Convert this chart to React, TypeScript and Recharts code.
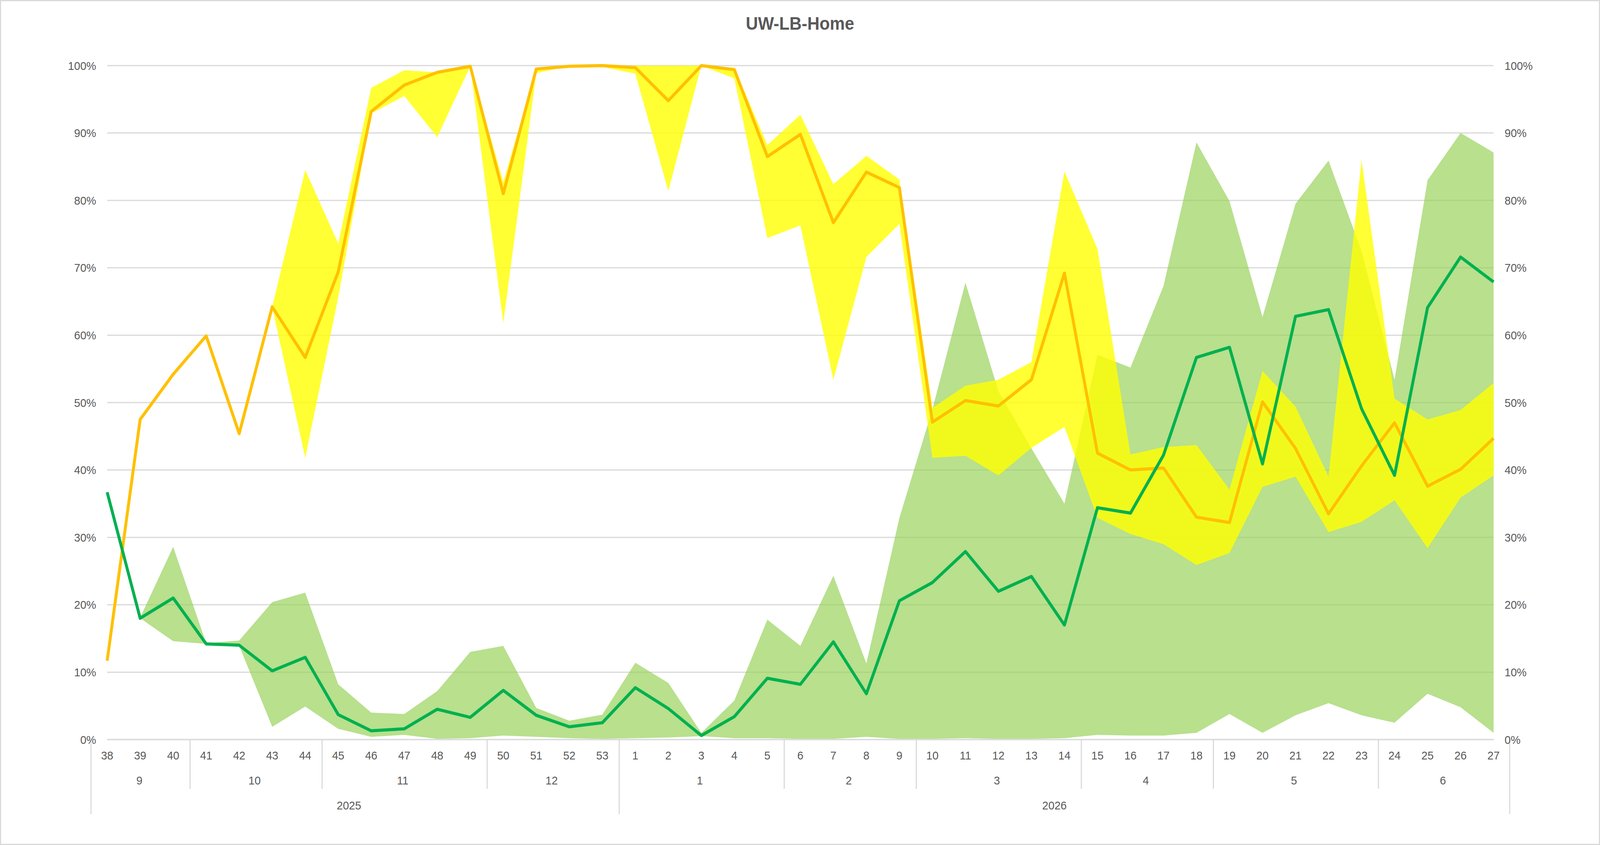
import React from "react";
import {
  ComposedChart,
  Area,
  Line,
  XAxis,
  YAxis,
  CartesianGrid,
} from "recharts";

// week numbers along the bottom, grouped by month and year
const weeks = [
  38, 39, 40, 41, 42, 43, 44, 45, 46, 47, 48, 49, 50, 51, 52, 53,
  1, 2, 3, 4, 5, 6, 7, 8, 9, 10, 11, 12, 13, 14, 15, 16, 17, 18, 19, 20,
  21, 22, 23, 24, 25, 26, 27,
];
const monthLabels = ["9", "10", "11", "12", "1", "2", "3", "4", "5", "6"];
const monthSpans = [3, 4, 5, 4, 5, 4, 5, 4, 5, 4];
const yearLabels = ["2025", "2026"];
const yearSpans = [16, 27];

// values in %
const orangeLine = [
  11.7, 47.5, 54.2, 59.9, 45.4, 64.2, 56.7, 69.4, 93.2, 97.1, 99.0, 99.9, 81.0, 99.5, 99.9, 100,
  99.7, 94.8, 100, 99.4, 86.5, 89.8, 76.7, 84.2, 81.9, 47.1, 50.3, 49.5, 53.4, 69.2, 42.5, 40.0,
  40.3, 33.0, 32.2, 50.1, 43.2, 33.5, 40.6, 47.0, 37.6, 40.1, 44.7,
];
const greenLine = [
  36.7, 18.0, 21.0, 14.2, 14.0, 10.2, 12.2, 3.7, 1.3, 1.6, 4.5, 3.3, 7.3, 3.6, 1.9, 2.5,
  7.7, 4.6, 0.6, 3.4, 9.1, 8.2, 14.5, 6.8, 20.6, 23.3, 27.9, 22.0, 24.2, 17.0, 34.4, 33.6,
  42.2, 56.7, 58.2, 40.9, 62.8, 63.8, 49.1, 39.2, 64.1, 71.6, 67.9,
];
const yellowLo = [
  null, null, null, null, null, 64.2, 41.8, 65.6, 92.9, 95.5, 89.4, 99.9, 61.8, 98.9, 99.9, 99.8,
  98.8, 81.4, 100, 98.1, 74.4, 76.3, 53.4, 71.6, 76.5, 41.8, 42.1, 39.2, 43.3, 46.4, 32.9, 30.5,
  29.0, 25.9, 27.7, 37.5, 39.0, 30.8, 32.3, 35.5, 28.4, 35.9, 39.2,
];
const yellowHi = [
  null, null, null, null, null, 64.2, 84.5, 73.6, 96.7, 99.3, 99.0, 100, 82.7, 99.6, 100, 100,
  100, 100, 100, 99.7, 88.2, 92.7, 82.4, 86.6, 83.1, 49.2, 52.5, 53.4, 56.0, 84.3, 72.8, 42.3,
  43.4, 43.7, 37.1, 54.7, 49.4, 39.0, 86.0, 50.6, 47.5, 48.9, 52.9,
];
const greenLo = [
  null, 18.0, 14.6, 14.2, 13.9, 1.9, 4.9, 1.6, 0.4, 0.7, 0.1, 0.2, 0.6, 0.4, 0.2, 0.1,
  0.2, 0.3, 0.5, 0.2, 0.2, 0.1, 0.1, 0.4, 0.1, 0.1, 0.2, 0.1, 0.1, 0.2, 0.7, 0.6,
  0.6, 1.0, 3.8, 1.0, 3.6, 5.4, 3.6, 2.5, 6.8, 4.8, 1.0,
];
const greenHi = [
  null, 18.1, 28.6, 14.3, 14.7, 20.4, 21.8, 8.2, 4.0, 3.8, 7.2, 13.0, 13.9, 4.7, 2.8, 3.7,
  11.4, 8.4, 1.0, 5.8, 17.8, 13.9, 24.3, 11.3, 32.9, 49.0, 67.8, 51.7, 43.2, 35.0, 57.1, 55.2,
  67.3, 88.6, 79.9, 62.7, 79.5, 85.9, 72.5, 53.4, 83.0, 90.0, 87.1,
];
const yTicks = [0, 10, 20, 30, 40, 50, 60, 70, 80, 90, 100];

// chart is laid out at the reference size, then squeezed to the 4096px wide viewport
const W = 4360;
const H = 2164;
const VIEW_W = 4096;
const SCALE_X = VIEW_W / W;
const PLOT_LEFT = 292;
const PLOT_RIGHT = 4070;
const PLOT_TOP = 168;
const PLOT_BOTTOM = 1894;
const BAND = (PLOT_RIGHT - PLOT_LEFT) / weeks.length;
const GRAY = "#D9D9D9";
const TEXT = "#595959";
const FONT = "'Liberation Sans', Arial, sans-serif";

const data = weeks.map((w, i) => ({
  key: `k${i}`,
  week: w,
  orange: orangeLine[i],
  green: greenLine[i],
  yellowBand: yellowLo[i] == null ? null : [yellowLo[i], yellowHi[i]],
  greenBand: greenLo[i] == null ? null : [greenLo[i], greenHi[i]],
}));

function groupStarts(spans: number[]) {
  const out: number[] = [];
  let s = 0;
  spans.forEach((n) => {
    out.push(s);
    s += n;
  });
  return out;
}
const monthStarts = groupStarts(monthSpans);
const yearStarts = groupStarts(yearSpans);

function WeekTick(props: any) {
  const { x } = props;
  const index: number = props.index ?? props.payload?.index ?? 0;
  const y0 = PLOT_BOTTOM;
  const monthDepth = y0 + 126;
  const yearDepth = y0 + 191;
  const parts: React.ReactNode[] = [];

  parts.push(
    <text key="w" x={x} y={y0 + 41} textAnchor="middle" dominantBaseline="central"
      fontSize={30} fill={TEXT} fontFamily={FONT}>
      {weeks[index]}
    </text>
  );

  const m = monthStarts.indexOf(index);
  if (m >= 0) {
    const isYear = yearStarts.includes(index);
    const sx = x - BAND / 2;
    parts.push(
      <line key="ms" x1={sx} x2={sx} y1={y0} y2={isYear ? yearDepth : monthDepth}
        stroke={GRAY} strokeWidth={3} />
    );
    parts.push(
      <text key="m" x={x + ((monthSpans[m] - 1) / 2) * BAND} y={y0 + 105}
        textAnchor="middle" dominantBaseline="central" fontSize={30} fill={TEXT} fontFamily={FONT}>
        {monthLabels[m]}
      </text>
    );
  }
  const yi = yearStarts.indexOf(index);
  if (yi >= 0) {
    parts.push(
      <text key="y" x={x + ((yearSpans[yi] - 1) / 2) * BAND} y={y0 + 169}
        textAnchor="middle" dominantBaseline="central" fontSize={30} fill={TEXT} fontFamily={FONT}>
        {yearLabels[yi]}
      </text>
    );
  }
  if (index === weeks.length - 1) {
    const ex = x + BAND / 2;
    parts.push(
      <line key="end" x1={ex} x2={ex} y1={y0} y2={yearDepth} stroke={GRAY} strokeWidth={3} />
    );
  }
  return <g>{parts}</g>;
}

export default function App() {
  return (
    <div style={{ width: VIEW_W, height: H, overflow: "hidden", background: "#fff" }}>
      <style>{`body{margin:0;overflow:hidden}`}</style>
      <div
        style={{
          position: "relative",
          width: W,
          height: H,
          transform: `scale(${SCALE_X}, 1)`,
          transformOrigin: "0 0",
        }}
      >
        <div
          style={{
            position: "absolute",
            top: 0,
            left: 0,
            width: W,
            textAlign: "center",
            fontFamily: FONT,
            fontWeight: "bold",
            fontSize: 46,
            color: TEXT,
            lineHeight: "46px",
            paddingTop: 37,
          }}
        >
          UW-LB-Home
        </div>
        <div style={{ position: "absolute", top: 0, left: 0 }}>
          <ComposedChart
            width={W}
            height={H}
            data={data}
            margin={{ top: PLOT_TOP, left: PLOT_LEFT - 100, right: W - PLOT_RIGHT - 100, bottom: 70 }}
          >
            <CartesianGrid yAxisId="left" vertical={false} stroke={GRAY} strokeWidth={3} />
            <XAxis
              dataKey="key"
              interval={0}
              height={200}
              tickLine={false}
              axisLine={{ stroke: GRAY, strokeWidth: 3 }}
              tick={<WeekTick />}
            />
            <YAxis
              yAxisId="left"
              width={100}
              domain={[0, 100]}
              ticks={yTicks}
              axisLine={false}
              tickLine={false}
              tickMargin={24}
              tickFormatter={(v) => `${v}%`}
              tick={{ fontSize: 30, fill: TEXT, fontFamily: FONT }}
            />
            <YAxis
              yAxisId="right"
              orientation="right"
              width={100}
              domain={[0, 100]}
              ticks={yTicks}
              axisLine={false}
              tickLine={false}
              tickMargin={24}
              tickFormatter={(v) => `${v}%`}
              tick={{ fontSize: 30, fill: TEXT, fontFamily: FONT, textAnchor: "start" }}
            />
            <Area
              yAxisId="left"
              type="linear"
              dataKey="greenBand"
              stroke="none"
              fill="#92D050"
              fillOpacity={0.65}
              isAnimationActive={false}
              activeDot={false}
            />
            <Area
              yAxisId="left"
              type="linear"
              dataKey="yellowBand"
              stroke="none"
              fill="#FFFF00"
              fillOpacity={0.8}
              isAnimationActive={false}
              activeDot={false}
            />
            <Line
              yAxisId="left"
              type="linear"
              dataKey="orange"
              stroke="#FFC000"
              strokeWidth={8}
              strokeLinejoin="round"
              dot={false}
              activeDot={false}
              isAnimationActive={false}
            />
            <Line
              yAxisId="right"
              type="linear"
              dataKey="green"
              stroke="#00B050"
              strokeWidth={8}
              strokeLinejoin="round"
              dot={false}
              activeDot={false}
              isAnimationActive={false}
            />
          </ComposedChart>
        </div>
        <div
          style={{
            position: "absolute",
            top: 0,
            left: 0,
            width: W,
            height: H,
            boxSizing: "border-box",
            border: `3px solid ${GRAY}`,
            pointerEvents: "none",
          }}
        />
      </div>
    </div>
  );
}
